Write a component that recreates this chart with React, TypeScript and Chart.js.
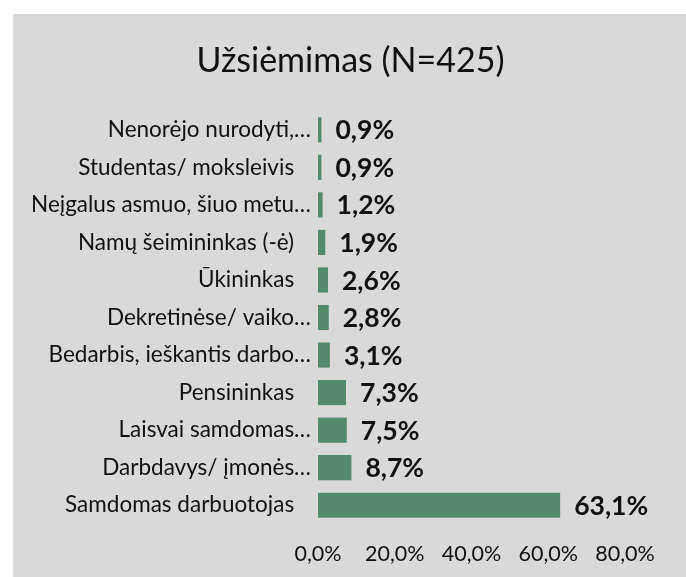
import React, { useEffect, useRef } from "react";
import { Chart, registerables } from "chart.js";

Chart.register(...registerables);

const titleText = "Užsiėmimas (N=425)";
const categories = [
  "Nenorėjo nurodyti,…",
  "Studentas/ moksleivis",
  "Neįgalus asmuo, šiuo metu…",
  "Namų šeimininkas (-ė)",
  "Ūkininkas",
  "Dekretinėse/ vaiko…",
  "Bedarbis, ieškantis darbo…",
  "Pensininkas",
  "Laisvai samdomas…",
  "Darbdavys/ įmonės…",
  "Samdomas darbuotojas",
];
const values = [0.9, 0.9, 1.2, 1.9, 2.6, 2.8, 3.1, 7.3, 7.5, 8.7, 63.1];
const xTicks = [0, 20, 40, 60, 80];

const FONT = "Lato, 'Open Sans', sans-serif";
const fmt = (v: number) => v.toFixed(1).replace(".", ",") + "%";

const valueLabels = {
  id: "valueLabels",
  afterDatasetsDraw(chart: any) {
    const ctx = chart.ctx;
    const meta = chart.getDatasetMeta(0);
    ctx.save();
    ctx.font = `bold 26.5px ${FONT}`;
    ctx.fillStyle = "#111";
    ctx.textAlign = "left";
    ctx.textBaseline = "middle";
    meta.data.forEach((bar: any, i: number) => {
      ctx.fillText(fmt(values[i]), bar.x + 14, bar.y + 1);
    });
    ctx.restore();
  },
};

const centeredTitle = {
  id: "centeredTitle",
  afterDraw(chart: any) {
    const ctx = chart.ctx;
    ctx.save();
    ctx.font = `normal 34px ${FONT}`;
    ctx.fillStyle = "#111";
    ctx.textAlign = "center";
    ctx.textBaseline = "middle";
    ctx.fillText(titleText, chart.width / 2 + 1, 47);
    ctx.restore();
  },
};

export default function App() {
  const ref = useRef<HTMLCanvasElement | null>(null);
  useEffect(() => {
    if (!ref.current) return;
    const chart = new Chart(ref.current, {
      type: "bar",
      data: {
        labels: categories,
        datasets: [
          {
            data: values,
            backgroundColor: "#548B6D",
            barPercentage: 0.67,
            categoryPercentage: 1,
          },
        ],
      },
      options: {
        indexAxis: "y",
        animation: false,
        responsive: true,
        maintainAspectRatio: false,
        layout: { padding: { left: 0, right: 61, top: 97, bottom: 0 } },
        plugins: {
          legend: { display: false },
          tooltip: { enabled: false },
          title: { display: false },
        },
        scales: {
          x: {
            min: 0,
            max: 80,
            afterBuildTicks: (axis: any) => {
              axis.ticks = xTicks.map((v) => ({ value: v }));
            },
            afterFit: (axis: any) => {
              axis.height = 53;
            },
            grid: { display: false, drawTicks: false },
            border: { display: false },
            ticks: {
              padding: 17,
              color: "#111",
              font: { family: FONT, size: 21.5 },
              maxRotation: 0,
              callback: (v: any) => fmt(Number(v)),
            },
          },
          y: {
            afterFit: (axis: any) => {
              axis.width = 305;
            },
            grid: { display: false, drawTicks: false },
            border: { display: false },
            ticks: {
              padding: 7,
              color: "#111",
              font: { family: FONT, size: 22.5 },
              autoSkip: false,
              callback: (_v: any, i: number) => {
                const s = categories[i];
                return s.endsWith("…") ? s : s + "\u2003";
              },
            },
          },
        },
      },
      plugins: [valueLabels, centeredTitle],
    });
    return () => chart.destroy();
  }, []);
  return (
    <div
      style={{
        position: "fixed",
        left: 13,
        top: 14,
        width: 673,
        height: 563,
        background: "#d9d9d9",
      }}
    >
      <canvas ref={ref} />
    </div>
  );
}
